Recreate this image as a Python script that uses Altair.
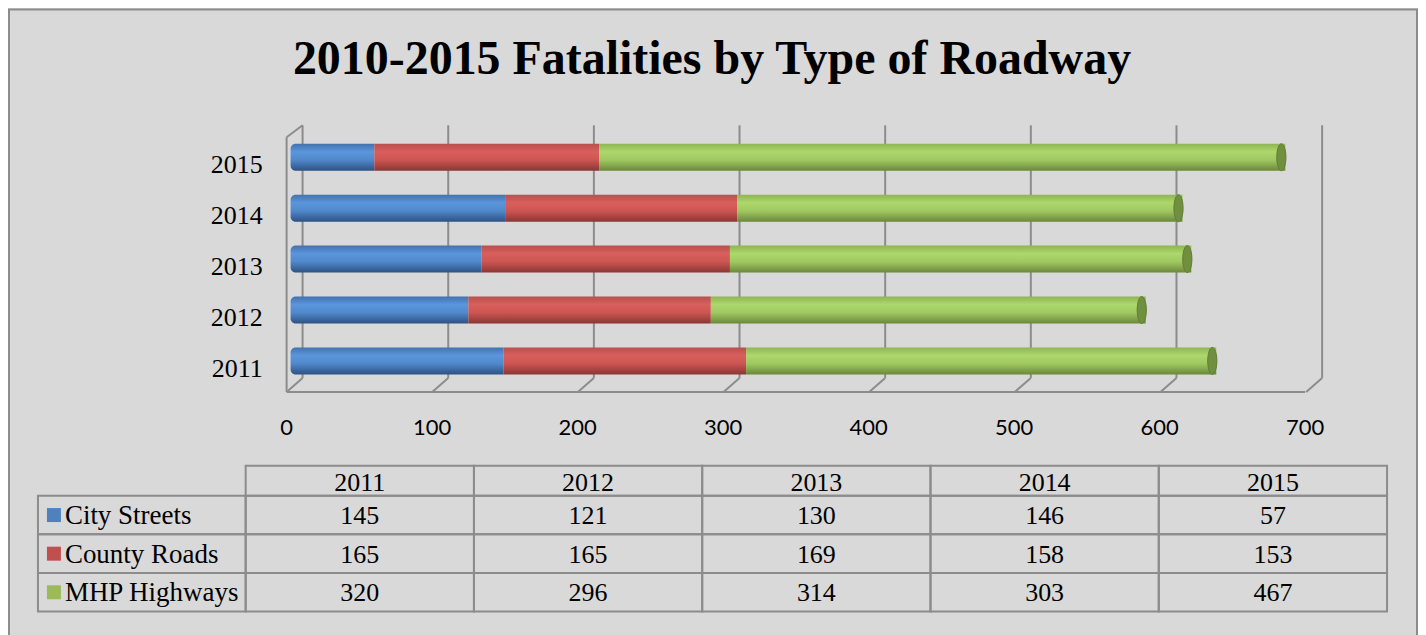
import altair as alt
import pandas as pd

# ---------------- data ----------------
years = ["2011", "2012", "2013", "2014", "2015"]
series = ["City Streets", "County Roads", "MHP Highways"]
city_streets = [145, 121, 130, 146, 57]
county_roads = [165, 165, 169, 158, 153]
mhp_highways = [320, 296, 314, 303, 467]
x_ticks = [0, 100, 200, 300, 400, 500, 600, 700]
series_colors = ["#4f81bd", "#c0504d", "#9bbb59"]
title_text = "2010-2015 Fatalities by Type of Roadway"

rows = []
for si, (name, vals) in enumerate(zip(series, [city_streets, county_roads, mhp_highways])):
    for yr, v in zip(years, vals):
        rows.append({"year": yr, "series": name, "value": v, "order": si})
df = pd.DataFrame(rows)
ticks_df = pd.DataFrame({"t": x_ticks})
floor_df = pd.DataFrame({"t0": [x_ticks[0]], "t1": [x_ticks[-1]]})
left_df = pd.DataFrame({"t": [x_ticks[0]]})
series_df = pd.DataFrame({"series": series})
years_df = pd.DataFrame({"year": years})
title_df = pd.DataFrame({"title": [title_text]})

# ---------------- styling ----------------
W, H = 1412, 627
GRID = "#8c8c8c"
SERIF = "Liberation Serif"
SANS = "Lato"

bar_x = alt.Scale(domain=[0, 700], range=[283, 1313])
back_x = alt.Scale(domain=[0, 700], range=[295, 1316])
front_x = alt.Scale(domain=[0, 700], range=[279, 1299])
bar_y = alt.Scale(domain=years[::-1], range=[123.5, 378.5], paddingInner=0.47, paddingOuter=0.235)
col_x = alt.Scale(domain=years, range=[238, 1381], paddingInner=0, paddingOuter=0)
row_y = alt.Scale(domain=series, range=[488, 604], paddingInner=0, paddingOuter=0)
color_scale = alt.Scale(domain=series, range=series_colors)


def grad(stops):
    return alt.Gradient(
        gradient="linear",
        stops=[alt.GradientStop(offset=o, color=c) for o, c in stops],
        x1=0, x2=0, y1=0, y2=1,
    )


bar_grads = {
    "City Streets": grad([(0, "#4372ad"), (0.3, "#5b96dc"), (0.6, "#5088cb"), (1, "#2d5282")]),
    "County Roads": grad([(0, "#b94f4d"), (0.3, "#d95f5c"), (0.6, "#cc5552"), (1, "#8a3634")]),
    "MHP Highways": grad([(0, "#8fb552"), (0.3, "#acd86c"), (0.6, "#a0c862"), (1, "#6b883a")]),
}

layers = []

# frame
layers.append(
    alt.Chart(title_df).mark_rect(fill=None, stroke=GRID, strokeWidth=2).encode(
        x=alt.value(1), x2=alt.value(1411), y=alt.value(1), y2=alt.value(800)
    )
)

# title
layers.append(
    alt.Chart(title_df).mark_text(
        font=SERIF, fontSize=48, fontWeight="bold", color="black",
        align="center", baseline="alphabetic"
    ).encode(text="title:N", x=alt.value(705), y=alt.value(66))
)

# back-plane gridlines (vertical)
layers.append(
    alt.Chart(ticks_df).mark_rule(color=GRID, strokeWidth=2).encode(
        x=alt.X("t:Q", scale=back_x, axis=None), y=alt.value(117), y2=alt.value(370)
    )
)
# diagonal floor connectors
layers.append(
    alt.Chart(ticks_df).mark_point(
        shape="M0,0 L-1,0.875", size=1024, filled=False, stroke=GRID, strokeWidth=2, opacity=1
    ).encode(x=alt.X("t:Q", scale=back_x, axis=None), y=alt.value(370))
)
# left wall top diagonal
layers.append(
    alt.Chart(left_df).mark_point(
        shape="M0,0 L-1,0.75", size=1024, filled=False, stroke=GRID, strokeWidth=2, opacity=1
    ).encode(x=alt.X("t:Q", scale=back_x, axis=None), y=alt.value(117))
)
# left wall front vertical
layers.append(
    alt.Chart(left_df).mark_rule(color=GRID, strokeWidth=2).encode(
        x=alt.X("t:Q", scale=front_x, axis=None), y=alt.value(129), y2=alt.value(384)
    )
)
# floor front line
layers.append(
    alt.Chart(floor_df).mark_rule(color=GRID, strokeWidth=2).encode(
        x=alt.X("t0:Q", scale=front_x, axis=None), x2="t1:Q", y=alt.value(384)
    )
)
# x tick labels
layers.append(
    alt.Chart(ticks_df).mark_text(
        font=SANS, fontSize=22, color="black", align="center", baseline="alphabetic"
    ).encode(x=alt.X("t:Q", scale=front_x, axis=None), y=alt.value(427), text="t:Q")
)

# stacked cylinder bars
for name in series:
    radius = {"cornerRadiusTopLeft": 5, "cornerRadiusBottomLeft": 5} if name == series[0] else {}
    layers.append(
        alt.Chart(df)
        .transform_stack(
            stack="value", groupby=["year"], as_=["x0", "x1"],
            sort=[alt.SortField(field="order", order="ascending")],
        )
        .transform_filter(alt.datum.series == name)
        .mark_bar(fill=bar_grads[name], **radius)
        .encode(
            x=alt.X("x0:Q", scale=bar_x, axis=None),
            x2="x1:Q",
            y=alt.Y("year:N", scale=bar_y, axis=None),
        )
    )
# end caps
layers.append(
    alt.Chart(df)
    .transform_stack(
        stack="value", groupby=["year"], as_=["x0", "x1"],
        sort=[alt.SortField(field="order", order="ascending")],
    )
    .transform_filter(alt.datum.series == series[-1])
    .mark_point(
        shape="M0,-1 A0.34,1 0 1,1 0,1 A0.34,1 0 1,1 0,-1 Z",
        size=729, filled=True, fill="#71903f", stroke="#5f7a33", strokeWidth=1,
        opacity=1, xOffset=-4,
    )
    .encode(x=alt.X("x1:Q", scale=bar_x, axis=None), y=alt.Y("year:N", scale=bar_y, axis=None))
)
# year labels
layers.append(
    alt.Chart(years_df).mark_text(
        font=SERIF, fontSize=26, color="black", align="right", baseline="alphabetic", dy=16
    ).encode(x=alt.value(255), y=alt.Y("year:N", scale=bar_y, axis=None), text="year:N")
)

# ---------------- data table ----------------
layers.append(
    alt.Chart(years_df).mark_rect(fill=None, stroke=GRID, strokeWidth=2).encode(
        x=alt.X("year:N", scale=col_x, axis=None), y=alt.value(458), y2=alt.value(488)
    )
)
layers.append(
    alt.Chart(years_df).mark_text(
        font=SERIF, fontSize=26, color="black", align="center", baseline="alphabetic"
    ).encode(x=alt.X("year:N", scale=col_x, axis=None), y=alt.value(483), text="year:N")
)
layers.append(
    alt.Chart(series_df).mark_rect(fill=None, stroke=GRID, strokeWidth=2).encode(
        x=alt.value(30), x2=alt.value(238), y=alt.Y("series:N", scale=row_y, axis=None)
    )
)
layers.append(
    alt.Chart(df).mark_rect(fill=None, stroke=GRID, strokeWidth=2).encode(
        x=alt.X("year:N", scale=col_x, axis=None), y=alt.Y("series:N", scale=row_y, axis=None)
    )
)
layers.append(
    alt.Chart(df).mark_text(
        font=SERIF, fontSize=26, color="black", align="center", baseline="alphabetic", dy=9
    ).encode(
        x=alt.X("year:N", scale=col_x, axis=None),
        y=alt.Y("series:N", scale=row_y, axis=None),
        text="value:Q",
    )
)
layers.append(
    alt.Chart(series_df).mark_square(size=196, opacity=1).encode(
        x=alt.value(46),
        y=alt.Y("series:N", scale=row_y, axis=None),
        color=alt.Color("series:N", scale=color_scale, legend=None),
    )
)
layers.append(
    alt.Chart(series_df).mark_text(
        font=SERIF, fontSize=27, color="black", align="left", baseline="alphabetic", dy=9
    ).encode(x=alt.value(57), y=alt.Y("series:N", scale=row_y, axis=None), text="series:N")
)

chart = (
    alt.layer(*layers)
    .resolve_scale(x="independent", y="independent", color="independent")
    .properties(width=W, height=H, autosize=alt.AutoSizeParams(type="none"), padding=0)
    .configure(background="#d9d9d9")
    .configure_view(stroke=None)
)

chart.save("out.html", embed_options={"renderer": "svg", "actions": False})
